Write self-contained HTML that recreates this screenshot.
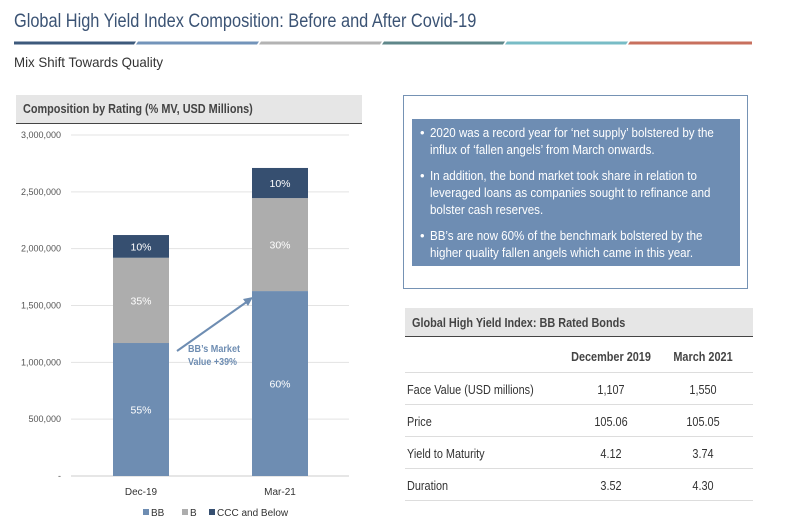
<!DOCTYPE html>
<html><head><meta charset="utf-8">
<style>
body{margin:0;width:795px;height:529px;background:#fff;position:relative;overflow:hidden;font-family:"Liberation Sans",sans-serif;color:#333}
.abs{position:absolute}
.sx{display:inline-block;transform-origin:0 0;white-space:nowrap}
</style></head><body>
<div class="abs" style="left:14px;top:11px;font-size:19px;color:#3b5374;white-space:nowrap;transform:scaleX(0.86);transform-origin:0 0">Global High Yield Index Composition: Before and After Covid-19</div>
<svg class="abs" style="left:0;top:40px" width="795" height="6">
<polygon points="14,1.5 136,1.5 134,4.5 14,4.5" fill="#3d5a7c"/>
<polygon points="138,1.5 259,1.5 257,4.5 136,4.5" fill="#7394ba"/>
<polygon points="261,1.5 382,1.5 380,4.5 259,4.5" fill="#b3b3b3"/>
<polygon points="384,1.5 505,1.5 503,4.5 382,4.5" fill="#5f878a"/>
<polygon points="507,1.5 628,1.5 626,4.5 505,4.5" fill="#78bcc6"/>
<polygon points="630,1.5 752,1.5 752,4.5 628,4.5" fill="#c8705e"/>
</svg>
<div class="abs" style="left:14px;top:54px;font-size:14px;color:#333;transform:scaleX(0.95);transform-origin:0 0">Mix Shift Towards Quality</div>

<div class="abs" style="left:16px;top:95px;width:346px;height:28px;background:#e6e6e6;border-bottom:1.5px solid #444"><span class="sx" style="position:absolute;left:7px;top:7px;font-size:12.5px;font-weight:bold;color:#444;transform:scaleX(0.87)">Composition by Rating (% MV, USD Millions)</span></div>

<svg class="abs" style="left:0;top:124px" width="380" height="405" id="chart"></svg>

<div class="abs" style="left:403px;top:95px;width:345px;height:194px;border:1px solid #7592b4;box-sizing:border-box"></div>
<div class="abs" style="left:412px;top:119px;width:328px;height:147px;background:#6e8db3;color:#fff;font-size:13px;line-height:17px">
<div style="position:absolute;left:8px;top:5px"><span style="position:absolute;left:0">•</span><span class="sx" style="position:absolute;left:10px;transform:scaleX(0.89)">2020 was a record year for ‘net supply’ bolstered by the<br>influx of ‘fallen angels’ from March onwards.</span></div>
<div style="position:absolute;left:8px;top:48px"><span style="position:absolute;left:0">•</span><span class="sx" style="position:absolute;left:10px;transform:scaleX(0.89)">In addition, the bond market took share in relation to<br>leveraged loans as companies sought to refinance and<br>bolster cash reserves.</span></div>
<div style="position:absolute;left:8px;top:108px"><span style="position:absolute;left:0">•</span><span class="sx" style="position:absolute;left:10px;transform:scaleX(0.89)">BB’s are now 60% of the benchmark bolstered by the<br>higher quality fallen angels which came in this year.</span></div>
</div>

<div class="abs" style="left:405px;top:308px;width:348px;height:28px;background:#e6e6e6;border-bottom:1.5px solid #444"><span class="sx" style="position:absolute;left:7px;top:8px;font-size:12.5px;font-weight:bold;color:#444;transform:scaleX(0.87)">Global High Yield Index: BB Rated Bonds</span></div>
<div class="abs" style="left:405px;top:338px;width:348px;font-size:12.5px;color:#333">
<div style="position:relative;height:34px;border-bottom:1.5px solid #ddd;font-weight:bold;color:#444"><span style="position:absolute;left:206px;top:12px;transform:translateX(-50%) scaleX(0.87);white-space:nowrap">December 2019</span><span style="position:absolute;left:298px;top:12px;transform:translateX(-50%) scaleX(0.87);white-space:nowrap">March 2021</span></div>
<div id="rows"></div>
</div>

<script>
const categories=["Dec-19","Mar-21"];
const bbValues=[1170000,1627000];
const bValues=[750000,818000];
const cccValues=[200000,265000];
const pctBB=["55%","60%"];
const pctB=["35%","30%"];
const pctCCC=["10%","10%"];
const yTicks=[0,500000,1000000,1500000,2000000,2500000,3000000];
const yTickLabels=["-","500,000","1,000,000","1,500,000","2,000,000","2,500,000","3,000,000"];
const rowLabels=["Face Value (USD millions)","Price","Yield to Maturity","Duration"];
const dec19=["1,107","105.06","4.12","3.52"];
const mar21=["1,550","105.05","3.74","4.30"];

const NS="http://www.w3.org/2000/svg";
const svg=document.getElementById('chart');
const oy=124;
const y=v=>476-oy-v/3000000*341;
const xCenter=i=>141+i*139;
const bw=56;
function mk(t,a,p){const e=document.createElementNS(NS,t);for(const k in a)e.setAttribute(k,a[k]);(p||svg).appendChild(e);return e;}
yTicks.forEach((t,i)=>{
  const g=mk('line',{x1:71,x2:349,y1:y(t),y2:y(t),stroke:i==0?'#ccc':'#e3e3e3','stroke-width':1});
  
  
  const l=mk('text',{x:61,y:y(t)+3,'text-anchor':'end','font-size':9,fill:'#555'});
  l.textContent=yTickLabels[i];
  
  
});
categories.forEach((c,i)=>{
  const segs=[[0,bbValues[i],'#6e8db2',pctBB[i],'bar-bb'],[bbValues[i],bbValues[i]+bValues[i],'#adadad',pctB[i],'bar-b'],[bbValues[i]+bValues[i],bbValues[i]+bValues[i]+cccValues[i],'#364f70',pctCCC[i],'bar-ccc']];
  segs.forEach(s=>{
    const r=mk('rect',{x:xCenter(i)-bw/2,y:y(s[1]),width:bw,height:y(s[0])-y(s[1]),fill:s[2]});
    
    
    const t=mk('text',{x:xCenter(i),y:(y(s[0])+y(s[1]))/2+4,'text-anchor':'middle','font-size':10.5,fill:'#fff'});
    t.textContent=s[3];
    
    
  });
  const xl=mk('text',{x:xCenter(i),y:y(0)+19,'text-anchor':'middle','font-size':10,fill:'#333'});
  xl.textContent=c;
  
  
});
const ar=mk('line',{x1:177,y1:351-oy,x2:248,y2:301-oy,stroke:'#6e8db2','stroke-width':2});


const ah=mk('polygon',{points:`253,${297-oy} 243,${299-oy} 248,${306-oy}`,fill:'#6e8db2'});


[["BB’s Market",352],["Value +39%",365]].forEach(a=>{
  const t=mk('text',{x:188,y:a[1]-oy,'font-size':10.5,'font-weight':'bold',fill:'#6e8db2',textLength:a[0].length>10?52:49,lengthAdjust:'spacingAndGlyphs'});
  t.textContent=a[0];
  
  
});
[["BB","#6e8db2",143],["B","#adadad",182],["CCC and Below","#364f70",209]].forEach(l=>{
  const r=mk('rect',{x:l[2],y:509-oy,width:6,height:6,fill:l[1]});
  
  
  const t=mk('text',{x:l[2]+8,y:516-oy,'font-size':10,fill:'#333'});
  t.textContent=l[0];
  
  
});
const rows=document.getElementById('rows');
rowLabels.forEach((r,i)=>{
  const d=document.createElement('div');
  
  
  d.style.cssText='position:relative;height:31px;border-bottom:1.5px solid #ddd';
  d.innerHTML=`<span class="sx" style="position:absolute;left:2px;top:10px;transform:scaleX(0.87)">${r}</span><span style="position:absolute;left:206px;top:10px;transform:translateX(-50%) scaleX(0.87)">${dec19[i]}</span><span style="position:absolute;left:298px;top:10px;transform:translateX(-50%) scaleX(0.87)">${mar21[i]}</span>`;
  rows.appendChild(d);
});
</script>
</body></html>
